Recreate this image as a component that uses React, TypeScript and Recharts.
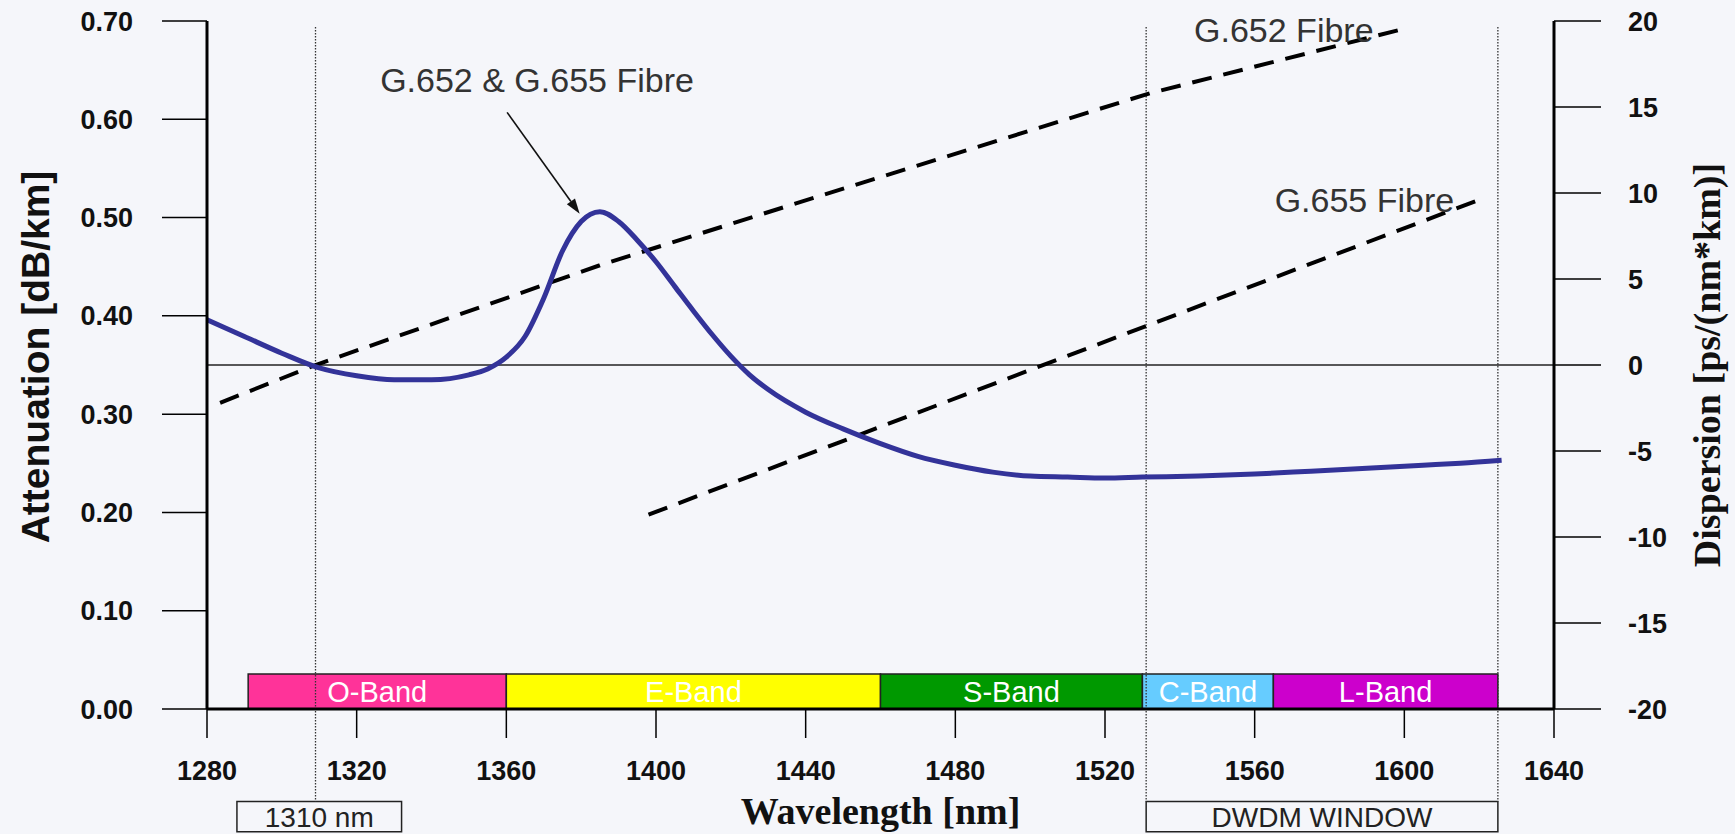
import {
  ComposedChart,
  Line,
  XAxis,
  YAxis,
  ReferenceArea,
  ReferenceLine,
  ReferenceDot,
  Label,
} from 'recharts'

// wavelength (nm) -> attenuation (dB/km)
const attWavelength = [
  1280, 1290, 1300, 1310, 1320, 1330, 1340, 1350, 1355, 1360, 1365, 1370, 1375, 1380, 1385,
  1390, 1395, 1400, 1405, 1410, 1415, 1420, 1425, 1430, 1440, 1450, 1460, 1470, 1480, 1490,
  1500, 1510, 1520, 1530, 1545, 1560, 1575, 1590, 1605, 1615, 1626,
]
const attValue = [
  0.396, 0.379, 0.362, 0.347, 0.339, 0.335, 0.335, 0.34, 0.346, 0.358, 0.379, 0.418, 0.466,
  0.496, 0.506, 0.496, 0.477, 0.455, 0.43, 0.405, 0.381, 0.359, 0.34, 0.325, 0.302, 0.285,
  0.27, 0.257, 0.248, 0.241, 0.237, 0.236, 0.235, 0.236, 0.237, 0.239, 0.242, 0.245, 0.248,
  0.25, 0.253,
]

// dispersion lines (ps/(nm*km))
const g652Wavelength = [1283.5, 1309, 1385, 1436, 1532, 1599]
const g652Dispersion = [-2.2, 0, 5.8, 9.3, 15.8, 19.5]
const g655Wavelength = [1398, 1620]
const g655Dispersion = [-8.7, 9.6]

const bandNames = ['O-Band', 'E-Band', 'S-Band', 'C-Band', 'L-Band']
const bandStart = [1291, 1360, 1460, 1530, 1565]
const bandEnd = [1360, 1460, 1530, 1565, 1625]
const bandColors = ['#ff3399', '#ffff00', '#009900', '#66ccff', '#cc00cc']
const bandTop = 0.0356

const markerLines = [1309, 1531, 1625]
const windowNames = ['1310 nm', 'DWDM WINDOW']
const windowStart = [1288, 1531]
const windowEnd = [1332, 1625]

const xTicks = [1280, 1320, 1360, 1400, 1440, 1480, 1520, 1560, 1600, 1640]
const attTicks = [0, 0.1, 0.2, 0.3, 0.4, 0.5, 0.6, 0.7]
const dispTicks = [-20, -15, -10, -5, 0, 5, 10, 15, 20]

const BG = '#f5f6fa'
const SANS = '"Liberation Sans", Arial, sans-serif'
const SERIF = '"Liberation Serif", "Times New Roman", serif'

const attData = attWavelength.map((wl, i) => ({ wl, att: attValue[i] }))
const g652Data = g652Wavelength.map((wl, i) => ({ wl, disp: g652Dispersion[i] }))
const g655Data = g655Wavelength.map((wl, i) => ({ wl, disp: g655Dispersion[i] }))

const tickStyle = { fontSize: 27, fontWeight: 700, fontFamily: SANS, fill: '#111' }

function LeftTitle(props: any) {
  const { x, y, height } = props.viewBox
  const cx = x + 35
  const cy = y + height / 2 - 8
  return (
    <text
      x={cx}
      y={cy}
      transform={`rotate(-90 ${cx} ${cy})`}
      textAnchor="middle"
      dominantBaseline="central"
      fontFamily={SANS}
      fontWeight={700}
      fontSize={39}
      fill="#111"
    >
      Attenuation [dB/km]
    </text>
  )
}

function RightTitle(props: any) {
  const { x, y, height } = props.viewBox
  const cx = x + 153
  const cy = y + height / 2
  return (
    <text
      x={cx}
      y={cy}
      transform={`rotate(-90 ${cx} ${cy})`}
      textAnchor="middle"
      dominantBaseline="central"
      fontFamily={SERIF}
      fontWeight={700}
      fontSize={38}
      fill="#111"
    >
      Dispersion [ps/(nm*km)]
    </text>
  )
}

function ArrowLine(props: any) {
  const { x1, y1, x2, y2 } = props
  const ang = Math.atan2(y2 - y1, x2 - x1)
  const len = 15
  const half = 5
  const bx = x2 - len * Math.cos(ang)
  const by = y2 - len * Math.sin(ang)
  const px = -Math.sin(ang) * half
  const py = Math.cos(ang) * half
  return (
    <g>
      <line x1={x1} y1={y1} x2={bx} y2={by} stroke="#111" strokeWidth={1.6} />
      <polygon points={`${x2},${y2} ${bx + px},${by + py} ${bx - px},${by - py}`} fill="#111" />
    </g>
  )
}

export default function App() {
  return (
    <div style={{ position: 'absolute', left: 0, top: 0, width: 1735, height: 834, background: BG }}>
      <ComposedChart width={1735} height={834} margin={{ top: 21, right: 0, left: 0, bottom: 0 }}>
        <XAxis
          dataKey="wl"
          type="number"
          domain={[1280, 1640]}
          ticks={xTicks}
          height={125}
          tickSize={29}
          tickMargin={23}
          tick={tickStyle}
          axisLine={{ stroke: '#000', strokeWidth: 3 }}
          tickLine={{ stroke: '#000', strokeWidth: 1.5 }}
          allowDataOverflow
        >
          <Label
            value="Wavelength [nm]"
            position="insideBottom"
            offset={10}
            style={{ fontFamily: SERIF, fontWeight: 700, fontSize: 38, fill: '#111' }}
          />
        </XAxis>
        <YAxis
          yAxisId="left"
          orientation="left"
          type="number"
          domain={[0, 0.7]}
          ticks={attTicks}
          tickFormatter={(v: number) => v.toFixed(2)}
          width={207}
          tickSize={45}
          tickMargin={29}
          tick={tickStyle}
          axisLine={{ stroke: '#000', strokeWidth: 3 }}
          tickLine={{ stroke: '#000', strokeWidth: 1.5 }}
          allowDataOverflow
          label={<Label content={LeftTitle} />}
        />
        <YAxis
          yAxisId="right"
          orientation="right"
          type="number"
          domain={[-20, 20]}
          ticks={dispTicks}
          width={181}
          tickSize={47}
          tickMargin={27}
          tick={tickStyle}
          axisLine={{ stroke: '#000', strokeWidth: 3 }}
          tickLine={{ stroke: '#000', strokeWidth: 1.5 }}
          allowDataOverflow
          label={<Label content={RightTitle} />}
        />

        {bandNames.map((name, i) => (
          <ReferenceArea
            key={name}
            yAxisId="left"
            x1={bandStart[i]}
            x2={bandEnd[i]}
            y1={0}
            y2={bandTop}
            fill={bandColors[i]}
            fillOpacity={1}
            stroke="#222"
            strokeWidth={1.5}
            label={{ value: name, position: 'center', fill: '#fff', fontSize: 29, fontFamily: SANS }}
          />
        ))}

        {windowNames.map((name, i) => (
          <ReferenceArea
            key={name}
            yAxisId="left"
            x1={windowStart[i]}
            x2={windowEnd[i]}
            y1={-0.094}
            y2={-0.125}
            ifOverflow="visible"
            fill={BG}
            fillOpacity={1}
            stroke="#222"
            strokeWidth={1.5}
            label={{ value: name, position: 'center', fill: '#222', fontSize: 28, fontFamily: SANS }}
          />
        ))}

        {markerLines.map((wl) => (
          <ReferenceLine
            key={wl}
            yAxisId="left"
            segment={[
              { x: wl, y: 0.694 },
              { x: wl, y: -0.094 },
            ]}
            ifOverflow="visible"
            stroke="#333"
            strokeWidth={1.3}
            strokeDasharray="1.5 1.5"
          />
        ))}

        <ReferenceLine yAxisId="right" y={0} stroke="#222" strokeWidth={1.5} />

        <ReferenceLine
          yAxisId="left"
          segment={[
            { x: 1360.2, y: 0.607 },
            { x: 1379.6, y: 0.504 },
          ]}
          ifOverflow="visible"
          shape={ArrowLine}
        />

        <Line
          yAxisId="right"
          data={g652Data}
          dataKey="disp"
          type="linear"
          stroke="#000"
          strokeWidth={4}
          strokeDasharray="20 12"
          dot={false}
          activeDot={false}
          isAnimationActive={false}
        />
        <Line
          yAxisId="right"
          data={g655Data}
          dataKey="disp"
          type="linear"
          stroke="#000"
          strokeWidth={4}
          strokeDasharray="20 12"
          dot={false}
          activeDot={false}
          isAnimationActive={false}
        />
        <Line
          yAxisId="left"
          data={attData}
          dataKey="att"
          type="monotone"
          stroke="#333399"
          strokeWidth={5}
          dot={false}
          activeDot={false}
          isAnimationActive={false}
        />

        <ReferenceDot
          yAxisId="right"
          x={g652Wavelength[g652Wavelength.length - 1]}
          y={g652Dispersion[g652Dispersion.length - 1]}
          r={0}
          ifOverflow="visible"
          label={{ value: 'G.652 Fibre', position: 'left', offset: 27, fill: '#333', fontSize: 34, fontFamily: SANS }}
        />
        <ReferenceDot
          yAxisId="right"
          x={g655Wavelength[1]}
          y={g655Dispersion[1]}
          r={0}
          ifOverflow="visible"
          label={{ value: 'G.655 Fibre', position: 'left', offset: 25, fill: '#333', fontSize: 34, fontFamily: SANS }}
        />
        <ReferenceDot
          yAxisId="left"
          x={1368.2}
          y={0.64}
          r={0}
          ifOverflow="visible"
          label={{ value: 'G.652 & G.655 Fibre', position: 'center', fill: '#333', fontSize: 34, fontFamily: SANS }}
        />
      </ComposedChart>
    </div>
  )
}
